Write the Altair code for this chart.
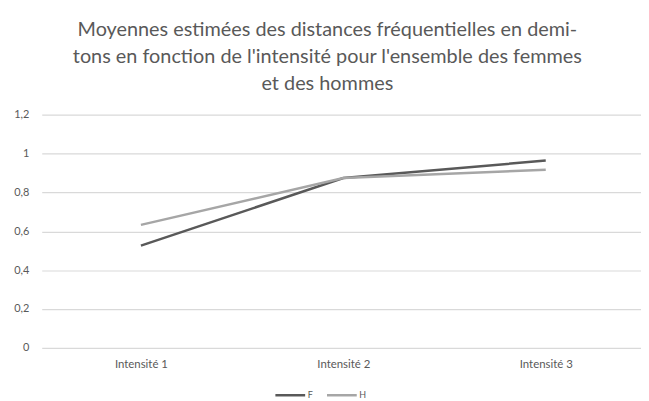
import altair as alt
import pandas as pd

categories = ["Intensité 1", "Intensité 2", "Intensité 3"]
series_names = ["F", "H"]
values_F = [0.526, 0.874, 0.964]
values_H = [0.633, 0.874, 0.917]
y_ticks = [0, 0.2, 0.4, 0.6, 0.8, 1.0, 1.2]
title_lines = [
    "Moyennes estimées des distances fréquentielles en demi-",
    "tons en fonction de l'intensité pour l'ensemble des femmes",
    "et des hommes",
]

rows = []
for name, vals in zip(series_names, [values_F, values_H]):
    for i, (c, v) in enumerate(zip(categories, vals)):
        rows.append({"idx": i, "cat": c, "serie": name, "val": v})
df = pd.DataFrame(rows)

FONT = "Lato"
TXT = "#595959"
cat_expr = "[" + ",".join("'" + c + "'" for c in categories) + "][datum.value]"

chart = (
    alt.Chart(df)
    .mark_line(strokeWidth=2.5)
    .encode(
        x=alt.X(
            "idx:Q",
            scale=alt.Scale(domain=[-0.49, 2.4706], nice=False, zero=False),
            axis=alt.Axis(
                title=None, values=[0, 1, 2], labelExpr=cat_expr,
                domain=False, ticks=False, grid=False,
                labelFont=FONT, labelFontSize=11.5, labelColor=TXT, labelPadding=11,
            ),
        ),
        y=alt.Y(
            "val:Q",
            scale=alt.Scale(domain=[0, 1.2], nice=False),
            axis=alt.Axis(
                title=None, values=y_ticks, domain=False, ticks=False,
                gridColor="#d9d9d9", gridWidth=1.2,
                labelExpr="replace(format(datum.value, '~g'), '.', ',')",
                labelFont=FONT, labelFontSize=11, labelColor=TXT, labelPadding=13,
            ),
        ),
        color=alt.Color(
            "serie:N",
            scale=alt.Scale(domain=series_names, range=["#595959", "#a6a6a6"]),
            legend=alt.Legend(
                title=None, orient="none", direction="horizontal",
                legendX=234, legendY=266, symbolType="stroke", symbolSize=900,
                symbolStrokeWidth=2.5, labelFont=FONT, labelFontSize=9,
                labelColor=TXT, labelOffset=1, columnPadding=8,
            ),
        ),
    )
    .properties(
        width=604,
        height=235,
        padding={"left": 5, "top": 11, "right": 0, "bottom": 0},
        title=alt.TitleParams(
            text=title_lines, font=FONT, fontSize=20, fontWeight="normal",
            color=TXT, lineHeight=27, anchor="middle", frame="bounds", offset=15,
        ),
    )
    .configure_view(stroke=None)
)

chart.save("out.html", embed_options={"renderer": "svg", "actions": False})
